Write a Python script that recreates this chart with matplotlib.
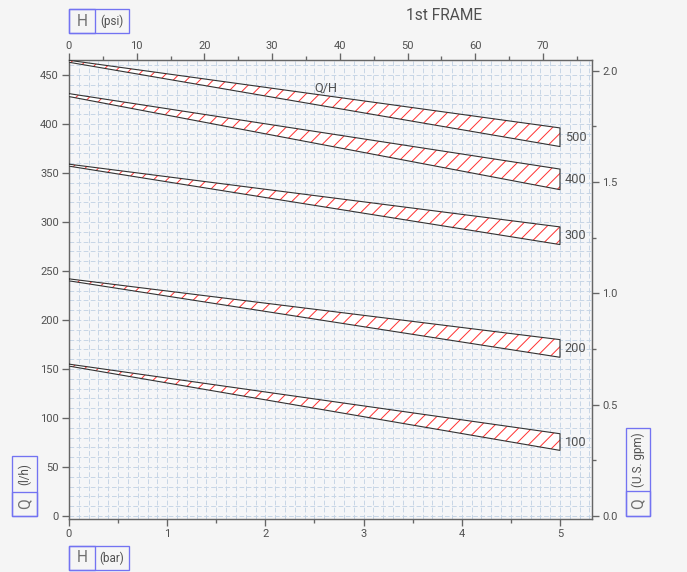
import matplotlib.pyplot as plt
from matplotlib.patches import Rectangle
from matplotlib.ticker import FixedLocator, MultipleLocator

# band data (Q in l/h at H = 0 bar and H = 5 bar)
band_labels = ["500", "400", "300", "200", "100"]
h_range = [0, 5]
q_top_start = [465, 431, 359, 242, 155]
q_bot_start = [463, 428, 357, 240, 153]
q_top_end = [396, 354, 295, 180, 84]
q_bot_end = [377, 333, 277, 162, 67]

# tick values
bar_ticks = [0, 1, 2, 3, 4, 5]
bar_minor = [0.5, 1.5, 2.5, 3.5, 4.5]
lh_ticks = [0, 50, 100, 150, 200, 250, 300, 350, 400, 450]
psi_ticks = [0, 10, 20, 30, 40, 50, 60, 70]
psi_minor = [5, 15, 25, 35, 45, 55, 65, 75]
gpm_ticks = [0.0, 0.5, 1.0, 1.5, 2.0]
gpm_minor = [0.25, 0.75, 1.25, 1.75]

BAR_TO_PSI = 14.5038
LH_PER_GPM = 227.125

W, H = 687, 572
DPI = 80
TXT = "#505050"
BOX = "#7373f2"
TICK = "#666666"

plt.rcParams["font.family"] = ["Roboto", "DejaVu Sans"]
plt.rcParams["hatch.linewidth"] = 0.9

fig = plt.figure(figsize=(W / DPI, H / DPI), dpi=DPI, facecolor="#f5f5f5")
ax = fig.add_axes([69 / W, 1 - 519 / H, (592 - 69) / W, (519 - 60) / H])
ax.set_facecolor("#f5f6f8")
ax.set_xlim(0, 5.326)
ax.set_ylim(-3, 465.3)

# paper grid (0.1 bar x 10 l/h)
ax.xaxis.set_major_locator(FixedLocator(bar_ticks))
ax.xaxis.set_minor_locator(MultipleLocator(0.1))
ax.yaxis.set_major_locator(FixedLocator(lh_ticks))
ax.yaxis.set_minor_locator(MultipleLocator(10))
ax.grid(which="both", color="#c6d5e6", linestyle=(0, (5, 2.5)), linewidth=0.85)
ax.set_axisbelow(True)

# hatched bands
for lab, t0, b0, t1, b1 in zip(band_labels, q_top_start, q_bot_start, q_top_end, q_bot_end):
    ax.fill_between(h_range, [b0, b1], [t0, t1], facecolor="white",
                    edgecolor="#ff3535", hatch="//", linewidth=0, zorder=3)
    ax.plot([h_range[0], h_range[1], h_range[1], h_range[0], h_range[0]],
            [t0, t1, b1, b0, t0], color="#333333", lw=1.0, zorder=4)
    ax.text(h_range[1] + 0.05, (t1 + b1) / 2, lab, ha="left", va="center",
            fontsize=11.5, color=TXT, zorder=5)

ax.text(2.62, 437, "Q/H", ha="center", va="center", fontsize=11.5, color=TXT)

# bottom / left axes
ax.tick_params(which="major", direction="out", length=6, width=1.2,
               colors=TICK, labelcolor=TXT, labelsize=10, pad=3)
ax.tick_params(which="minor", length=0)
for s in ax.spines.values():
    s.set_color(TICK)
    s.set_linewidth(1.3)

# half-bar ticks on the bottom
sec_b = ax.secondary_xaxis("bottom")
sec_b.xaxis.set_major_locator(FixedLocator(bar_minor))
sec_b.set_xticklabels([])
sec_b.tick_params(direction="out", length=4, width=1.2, colors=TICK)
sec_b.spines["bottom"].set_visible(False)

# top psi axis
top = ax.secondary_xaxis("top", functions=(lambda b: b * BAR_TO_PSI,
                                           lambda p: p / BAR_TO_PSI))
top.xaxis.set_major_locator(FixedLocator(psi_ticks))
top.xaxis.set_minor_locator(FixedLocator(psi_minor))
top.tick_params(which="major", direction="out", length=6, width=1.2,
                colors=TICK, labelcolor=TXT, labelsize=10, pad=2)
top.tick_params(which="minor", direction="out", length=4, width=1.2, colors=TICK)
top.spines["top"].set_visible(False)

# right gpm axis
right = ax.secondary_yaxis("right", functions=(lambda q: q / LH_PER_GPM,
                                               lambda g: g * LH_PER_GPM))
right.yaxis.set_major_locator(FixedLocator(gpm_ticks))
right.yaxis.set_minor_locator(FixedLocator(gpm_minor))
right.yaxis.set_major_formatter(lambda v, p: f"{v:.1f}")
right.tick_params(which="major", direction="out", length=6, width=1.2,
                  colors=TICK, labelcolor=TXT, labelsize=10, pad=3)
right.tick_params(which="minor", direction="out", length=4, width=1.2, colors=TICK)
right.spines["right"].set_visible(False)

# title
fig.text(444 / W, 1 - 16 / H, "1st FRAME", ha="center", va="center",
         fontsize=14, color=TXT)


def px(x, y):
    return x / W, 1 - y / H


def box(x0, y0, x1, y1):
    fig.add_artist(Rectangle(px(x0, y1), (x1 - x0) / W, (y1 - y0) / H,
                             transform=fig.transFigure, fill=False,
                             edgecolor=BOX, linewidth=1.2))


# horizontal label boxes
for y0, y1, unit in [(9, 33, "(psi)"), (546, 570, "(bar)")]:
    box(69, y0, 129, y1)
    box(69, y0, 95, y1)
    fig.text(*px(82, (y0 + y1) / 2), "H", ha="center", va="center",
             fontsize=14, color="#707070")
    fig.text(*px(112, (y0 + y1) / 2), unit, ha="center", va="center",
             fontsize=10.5, color=TXT)

# vertical label boxes
for x0, x1, y0, yd, unit in [(12, 37, 456, 492, "(l/h)"),
                             (626, 650, 428, 491, "(U.S. gpm)")]:
    box(x0, y0, x1, 516)
    box(x0, yd, x1, 516)
    fig.text(*px((x0 + x1) / 2, (yd + 516) / 2), "Q", ha="center", va="center",
             rotation=90, fontsize=14, color="#707070")
    fig.text(*px((x0 + x1) / 2, (y0 + yd) / 2), unit, ha="center", va="center",
             rotation=90, fontsize=10.5, color=TXT)

fig.savefig("out.png", dpi=DPI, facecolor=fig.get_facecolor())
